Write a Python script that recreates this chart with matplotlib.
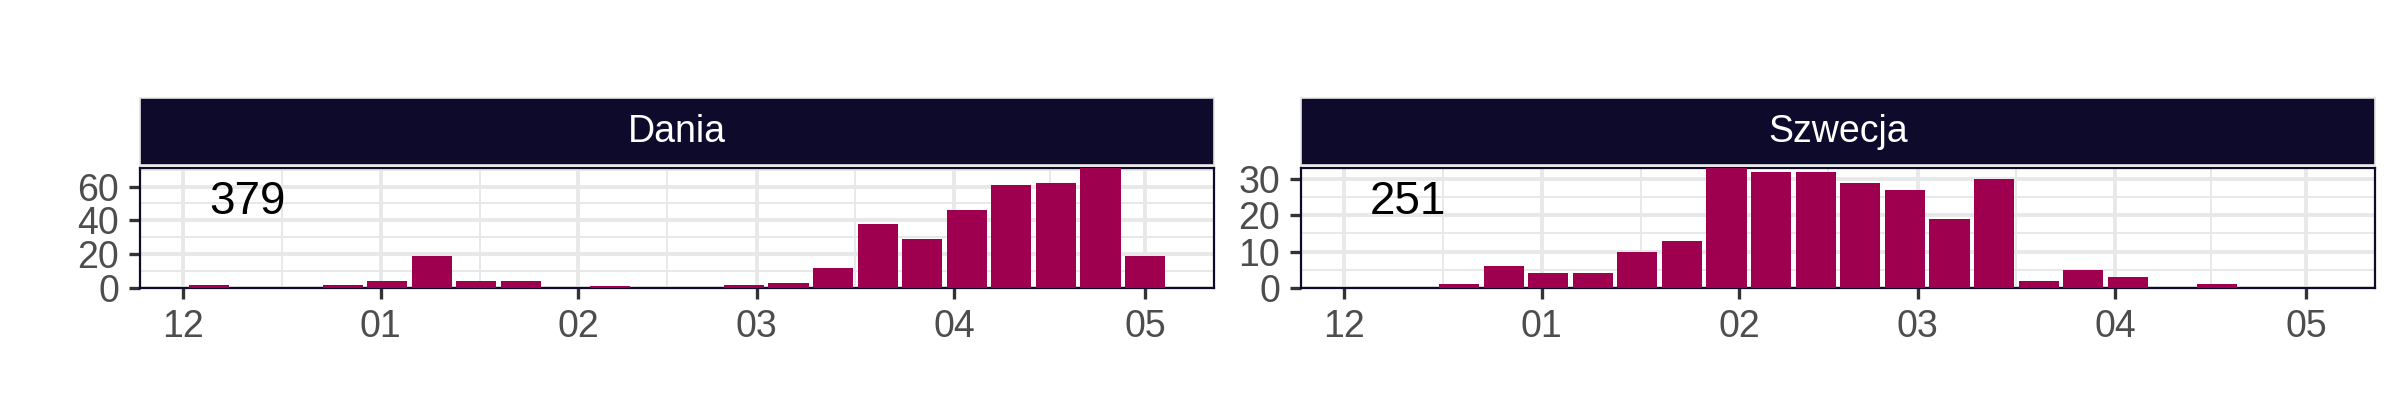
import matplotlib
matplotlib.use("Agg")
import matplotlib.pyplot as plt
import matplotlib.dates as mdates
import matplotlib.transforms as mtransforms
import numpy as np
import pandas as pd

plt.rcParams['font.family'] = ['Liberation Sans', 'DejaVu Sans']

# weekly counts
dania_weeks = ["2020-12-05", "2020-12-26", "2021-01-02", "2021-01-09", "2021-01-16",
               "2021-01-23", "2021-02-06", "2021-02-27", "2021-03-06", "2021-03-13",
               "2021-03-20", "2021-03-27", "2021-04-03", "2021-04-10", "2021-04-17",
               "2021-04-24", "2021-05-01"]
dania_counts = [2, 2, 4, 19, 4, 4, 1, 2, 3, 12, 38, 29, 46, 61, 62, 71, 19]

szwecja_weeks = ["2020-12-19", "2020-12-26", "2021-01-02", "2021-01-09", "2021-01-16",
                 "2021-01-23", "2021-01-30", "2021-02-06", "2021-02-13", "2021-02-20",
                 "2021-02-27", "2021-03-06", "2021-03-13", "2021-03-20", "2021-03-27",
                 "2021-04-03", "2021-04-17"]
szwecja_counts = [1, 6, 4, 4, 10, 13, 33, 32, 32, 29, 27, 19, 30, 2, 5, 3, 1]

countries = ["Dania", "Szwecja"]
totals = ["379", "251"]
y_major = [[0, 20, 40, 60], [0, 10, 20, 30]]

bar_color = "#9E004F"
strip_color = "#0E0A2B"

data = [(pd.to_datetime(dania_weeks), dania_counts),
        (pd.to_datetime(szwecja_weeks), szwecja_counts)]

# shared x range, ggplot-like expansion
all_dates = pd.to_datetime(dania_weeks + szwecja_weeks)
lo = mdates.date2num(all_dates.min()) - 3.15
hi = mdates.date2num(all_dates.max()) + 3.15
pad = (hi - lo) * 0.05
xlim = (lo - pad, hi + pad)

fig = plt.figure(figsize=(24, 4.2), dpi=100)
W, H = 2400, 420
lefts = [140, 1301]
width = 1074
p_top, p_bot = 168, 288
s_top, s_bot = 98, 165

month_starts = pd.date_range("2020-12-01", "2021-05-01", freq="MS")
minor = [month_starts[i] + (month_starts[i + 1] - month_starts[i]) / 2
         for i in range(len(month_starts) - 1)]

for i, (dates, counts) in enumerate(data):
    left = lefts[i]
    ax = fig.add_axes([left / W, (H - p_bot) / H, width / W, (p_bot - p_top) / H])
    ax.bar(dates, counts, width=6.3, color=bar_color, zorder=3)
    ax.set_xlim(xlim)
    ax.set_ylim(0, max(counts))

    ax.set_xticks(month_starts)
    ax.set_xticks(minor, minor=True)
    ax.xaxis.set_major_formatter(mdates.DateFormatter("%m"))
    step = y_major[i][1] - y_major[i][0]
    ax.set_yticks(y_major[i])
    ax.set_yticks(np.arange(step / 2, max(counts), step), minor=True)

    ax.grid(which="major", color="#E8E8E8", linewidth=2.8, zorder=0)
    ax.grid(which="minor", color="#E8E8E8", linewidth=1.4, zorder=0)
    ax.set_axisbelow(True)
    ax.tick_params(which="major", length=8, width=2.4, color="#333333",
                   labelsize=27, labelcolor="#4D4D4D", pad=7)
    ax.tick_params(which="minor", length=0)
    for sp in ax.spines.values():
        sp.set_color(strip_color)
        sp.set_linewidth(1.6)

    trans = mtransforms.blended_transform_factory(ax.transData, ax.transAxes)
    ax.text(mdates.date2num(pd.Timestamp("2020-12-11")), 0.72, totals[i],
            transform=trans, ha="center", va="center", fontsize=33, color="black")

    sax = fig.add_axes([left / W, (H - s_bot) / H, width / W, (s_bot - s_top) / H])
    sax.set_facecolor(strip_color)
    sax.set_xticks([])
    sax.set_yticks([])
    for sp in sax.spines.values():
        sp.set_color("#E5E5E5")
        sp.set_linewidth(1.2)
    sax.text(0.5, 0.5, countries[i], transform=sax.transAxes, ha="center",
             va="center", fontsize=27, color="white")

plt.savefig("out.png", dpi=100)
